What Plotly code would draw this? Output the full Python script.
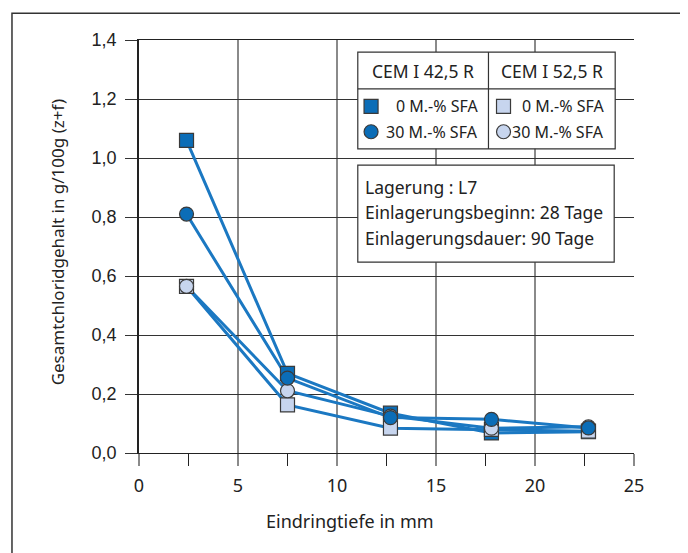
import plotly.graph_objects as go

# Eindringtiefe (mm)
depth = [2.4, 7.5, 12.7, 17.8, 22.7]

# Gesamtchloridgehalt g/100g (z+f)
cem425_0sfa = [1.06, 0.27, 0.135, 0.068, 0.072]
cem425_30sfa = [0.81, 0.254, 0.12, 0.114, 0.085]
cem525_0sfa = [0.565, 0.163, 0.084, 0.08, 0.074]
cem525_30sfa = [0.565, 0.211, 0.125, 0.084, 0.089]

x_ticks = [0, 5, 10, 15, 20, 25]
y_ticks = [0.0, 0.2, 0.4, 0.6, 0.8, 1.0, 1.2, 1.4]

DARK = "#0b6db7"
LIGHT = "#c7d5ee"
LINE = "#1b78c2"
EDGE = "#3a3a3a"
TXT = "#222222"
FONT = "Noto Sans"

fig = go.Figure()

series = [
    (cem425_0sfa, "square", DARK, "CEM I 42,5 R - 0 M.-% SFA"),
    (cem525_0sfa, "square", LIGHT, "CEM I 52,5 R - 0 M.-% SFA"),
    (cem525_30sfa, "circle", LIGHT, "CEM I 52,5 R - 30 M.-% SFA"),
    (cem425_30sfa, "circle", DARK, "CEM I 42,5 R - 30 M.-% SFA"),
]

# lines first so every marker sits on top
for vals, sym, col, name in series:
    fig.add_trace(go.Scatter(x=depth, y=vals, mode="lines", line=dict(color=LINE, width=3),
                             showlegend=False, hoverinfo="skip"))
for vals, sym, col, name in series:
    fig.add_trace(go.Scatter(x=depth, y=vals, mode="markers", name=name, showlegend=False,
                             marker=dict(symbol=sym, size=14, color=col, line=dict(color=EDGE, width=1.2))))

shapes = []
annotations = []

# outer frame
shapes.append(dict(type="rect", xref="paper", yref="paper", x0=-0.2566, x1=1.103, y0=-0.3, y1=1.065,
                   line=dict(color="#333333", width=1.5), fillcolor="rgba(0,0,0,0)", layer="above"))

# legend table (data coordinates)
lx0, lx1, lxm = 11.05, 24.05, 17.65
ly0, ly1, lym = 1.031, 1.359, 1.234
shapes.append(dict(type="rect", xref="x", yref="y", x0=lx0, x1=lx1, y0=ly0, y1=ly1,
                   line=dict(color="#333333", width=1.2), fillcolor="white", layer="above"))
shapes.append(dict(type="line", xref="x", yref="y", x0=lx0, x1=lx1, y0=lym, y1=lym,
                   line=dict(color="#333333", width=1.2), layer="above"))
shapes.append(dict(type="line", xref="x", yref="y", x0=lxm, x1=lxm, y0=ly0, y1=ly1,
                   line=dict(color="#333333", width=1.2), layer="above"))

annotations.append(dict(x=(lx0 + lxm) / 2, y=(ly1 + lym) / 2, xref="x", yref="y", text="CEM I 42,5 R",
                        showarrow=False, font=dict(size=17.5, color=TXT, family=FONT)))
annotations.append(dict(x=(lxm + lx1) / 2, y=(ly1 + lym) / 2, xref="x", yref="y", text="CEM I 52,5 R",
                        showarrow=False, font=dict(size=17.5, color=TXT, family=FONT)))

rows = [(1.175, "square", "0 M.-% SFA"), (1.089, "circle", "30 M.-% SFA")]
for xs, xe, col in [(11.72, 17.2, DARK), (18.41, 23.6, LIGHT)]:
    for yy, sym, label in rows:
        shp = dict(type=("rect" if sym == "square" else "circle"), xref="x", yref="y",
                   xsizemode="pixel", ysizemode="pixel", xanchor=xs, yanchor=yy,
                   x0=-7, x1=7, y0=-7, y1=7, fillcolor=col, line=dict(color=EDGE, width=1.2),
                   layer="above")
        shapes.append(shp)
        annotations.append(dict(x=xe, y=yy, xref="x", yref="y", text=label, xanchor="right",
                                showarrow=False, font=dict(size=16, color=TXT, family=FONT)))

# info box
ix0, ix1, iy0, iy1 = 11.05, 24.0, 0.647, 0.976
shapes.append(dict(type="rect", xref="x", yref="y", x0=ix0, x1=ix1, y0=iy0, y1=iy1,
                   line=dict(color="#333333", width=1.2), fillcolor="white", layer="above"))
info = ["Lagerung : L7", "Einlagerungsbeginn: 28 Tage", "Einlagerungsdauer: 90 Tage"]
for i, t in enumerate(info):
    annotations.append(dict(x=11.3, y=0.903 - i * 0.0875, xref="x", yref="y", text=t, xanchor="left",
                            showarrow=False, font=dict(size=17.5, color=TXT, family=FONT)))

# axis titles
annotations.append(dict(x=(57 - 139) / 495, y=0.51, xref="paper", yref="paper", textangle=-90,
                        xanchor="center", yanchor="middle",
                        text="Gesamtchloridgehalt in g/100g (z+f)", showarrow=False,
                        font=dict(size=17, color=TXT, family=FONT)))
annotations.append(dict(x=(350 - 139) / 495, y=(453 - 521) / 413, xref="paper", yref="paper",
                        xanchor="center", yanchor="middle",
                        text="Eindringtiefe in mm", showarrow=False,
                        font=dict(size=18, color=TXT, family=FONT)))

# page body has an 8px margin, so the figure is drawn 8px smaller
fig.update_layout(
    width=680, height=545,
    margin=dict(l=131, r=54, t=32, b=100),
    paper_bgcolor="white", plot_bgcolor="white",
    separators=",.",
    shapes=shapes, annotations=annotations,
    font=dict(family=FONT, color=TXT),
)

fig.update_xaxes(range=[0, 25], tickvals=x_ticks, showgrid=True, gridcolor="#8a8a8a", gridwidth=1.5,
                 zeroline=False, showline=True, linecolor="#222222", linewidth=1.2, mirror=True,
                 ticks="outside", ticklen=12, tickcolor="#8a8a8a", tickwidth=1.5,
                 minor=dict(dtick=2.5, tick0=0, ticks="outside", ticklen=12, tickcolor="#222222",
                            tickwidth=1.2, showgrid=False),
                 tickfont=dict(size=18, color=TXT, family=FONT), ticklabelstandoff=4)
fig.update_yaxes(range=[0, 1.4], tickvals=y_ticks, tickformat=".1f", showgrid=True, gridcolor="#333333",
                 gridwidth=1.2, zeroline=False, showline=True, linecolor="#222222", linewidth=1.5,
                 ticks="outside", ticklen=12, tickcolor="#333333", tickwidth=1.2,
                 tickfont=dict(size=18, color=TXT, family="Liberation Sans"), ticklabelstandoff=5)

fig.write_html("out.html")
